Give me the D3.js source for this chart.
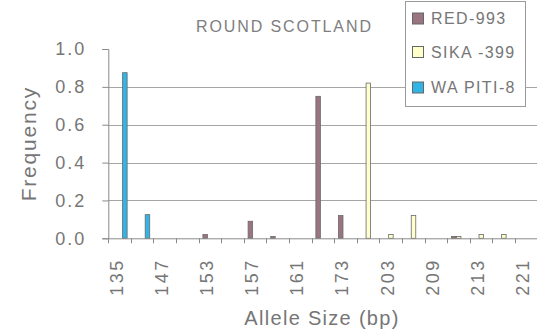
<!DOCTYPE html>
<html>
<head>
<meta charset="utf-8">
<script src="https://cdn.jsdelivr.net/npm/d3@7/dist/d3.min.js"></script>
<style>
  html, body { margin: 0; padding: 0; background: #fff; }
  svg { display: block; font-family: "Liberation Sans", Arial, sans-serif; }
</style>
</head>
<body>
<svg id="chart" width="537" height="329"></svg>
<script>
// Allele sizes (bp); every other size is labelled on the axis
const categories = ["135", "137", "147", "151", "153", "155", "157", "159", "161", "171",
                    "173", "175", "203", "207", "209", "211", "213", "217", "221"];
const seriesNames = ["RED-993", "SIKA -399", "WA PITI-8"];
const redValues    = [0, 0, 0, 0, 0.02, 0, 0.09, 0.01, 0, 0.75, 0.12, 0, 0, 0, 0, 0.01, 0, 0, 0];
const sikaValues   = [0, 0, 0, 0, 0, 0, 0, 0, 0, 0, 0, 0.82, 0.02, 0.12, 0, 0.01, 0.02, 0.02, 0];
const wapitiValues = [0.875, 0.125, 0, 0, 0, 0, 0, 0, 0, 0, 0, 0, 0, 0, 0, 0, 0, 0, 0];
const yTicks = [0, 0.2, 0.4, 0.6, 0.8, 1.0];
const colors = ["#9a7480", "#ffffcc", "#33b4e6"];

const series = [redValues, sikaValues, wapitiValues];
const svg = d3.select("#chart");

const plot = { left: 108.3, right: 537.5, top: 49, bottom: 238.3 };
const textColor = "#767676";
const axisColor = "#8a8a8a";

// Category groups: bars fill 2/3 of each slot (gap width 150%)
const x0 = d3.scaleBand()
  .domain(categories)
  .range([plot.left, plot.right])
  .paddingInner(1 / 3)
  .paddingOuter(1 / 6);
const x1 = d3.scaleBand()
  .domain(d3.range(series.length))
  .range([0, x0.bandwidth()]);
const y = d3.scaleLinear().domain([0, 1]).range([plot.bottom, plot.top]);

// Horizontal gridlines
svg.append("g")
  .selectAll("line")
  .data(yTicks.filter(v => v > 0 && v < 1))
  .join("line")
  .attr("x1", plot.left).attr("x2", plot.right)
  .attr("y1", d => Math.round(y(d)) + 0.5).attr("y2", d => Math.round(y(d)) + 0.5)
  .attr("stroke", "#a6a6a6").attr("stroke-width", 1);

// Title
svg.append("text")
  .attr("x", 196).attr("y", 32)
  .attr("font-size", 16).attr("letter-spacing", 1.9)
  .attr("fill", "#7e7e7e")
  .text("ROUND SCOTLAND");

// Legend box
const legend = svg.append("g");
legend.append("rect")
  .attr("x", 405.5).attr("y", 1.5).attr("width", 120).attr("height", 105)
  .attr("fill", "#fff").attr("stroke", "#9a9a9a");
const legendY = [18.5, 52, 87.5];
seriesNames.forEach((name, i) => {
  legend.append("rect")
    .attr("x", 412.5).attr("y", legendY[i] - 5.5).attr("width", 11).attr("height", 11)
    .attr("fill", colors[i]).attr("stroke", "#666");
  legend.append("text")
    .attr("x", 431).attr("y", legendY[i])
    .attr("dominant-baseline", "central")
    .attr("font-size", 16).attr("letter-spacing", 1.4)
    .attr("fill", textColor)
    .text(name);
});

// Bars
const groups = svg.append("g")
  .selectAll("g")
  .data(categories)
  .join("g")
  .attr("transform", d => `translate(${x0(d)},0)`);
groups.selectAll("rect")
  .data((d, ci) => series.map((vals, si) => ({ si, v: vals[ci] })).filter(b => b.v > 0))
  .join("rect")
  .attr("x", b => x1(b.si) + 0.5)
  .attr("width", x1.bandwidth() - 0.5)
  .attr("y", b => y(b.v))
  .attr("height", b => y(0) - y(b.v))
  .attr("fill", b => colors[b.si])
  .attr("stroke", "#6a6a6a")
  .attr("stroke-width", 0.8);

// Y axis
const yAxis = svg.append("g").attr("transform", `translate(${plot.left},0)`)
  .call(d3.axisLeft(y).tickValues(yTicks).tickSize(6).tickFormat(d3.format(".1f")));
yAxis.select(".domain").attr("stroke", axisColor);
yAxis.selectAll(".tick line").attr("stroke", axisColor);
yAxis.selectAll(".tick text")
  .attr("x", -22)
  .attr("font-size", 18).attr("letter-spacing", 2)
  .attr("fill", textColor)
  .attr("font-family", "Liberation Sans, Arial, sans-serif");

// X axis line and category boundary ticks
const step = x0.step();
const boundaries = categories.map(c => x0(c) - step * x0.paddingInner() / 2)
  .concat([plot.right]);
const xAxis = svg.append("g");
xAxis.append("line")
  .attr("x1", plot.left).attr("x2", plot.right)
  .attr("y1", plot.bottom + 0.5).attr("y2", plot.bottom + 0.5)
  .attr("stroke", axisColor);
xAxis.selectAll("line.tk")
  .data(boundaries)
  .join("line").attr("class", "tk")
  .attr("x1", d => Math.round(d) + 0.5).attr("x2", d => Math.round(d) + 0.5)
  .attr("y1", plot.bottom).attr("y2", plot.bottom + 5)
  .attr("stroke", axisColor);

// Rotated category labels (every second category)
xAxis.selectAll("text")
  .data(categories.filter((c, i) => i % 2 === 0))
  .join("text")
  .attr("transform", d => `translate(${x0(d) + x0.bandwidth() / 2 - 3},${plot.bottom + 20}) rotate(-90)`)
  .attr("text-anchor", "end")
  .attr("dominant-baseline", "central")
  .attr("font-size", 18).attr("letter-spacing", 2.5)
  .attr("fill", textColor)
  .text(d => d);

// Axis titles
svg.append("text")
  .attr("x", 322).attr("y", 325)
  .attr("text-anchor", "middle")
  .attr("font-size", 20).attr("letter-spacing", 1.3)
  .attr("fill", textColor)
  .text("Allele Size (bp)");

svg.append("text")
  .attr("transform", `translate(28,${(plot.top + plot.bottom) / 2}) rotate(-90)`)
  .attr("text-anchor", "middle")
  .attr("dominant-baseline", "central")
  .attr("font-size", 21).attr("letter-spacing", 1.8)
  .attr("fill", textColor)
  .text("Frequency");
</script>
</body>
</html>
